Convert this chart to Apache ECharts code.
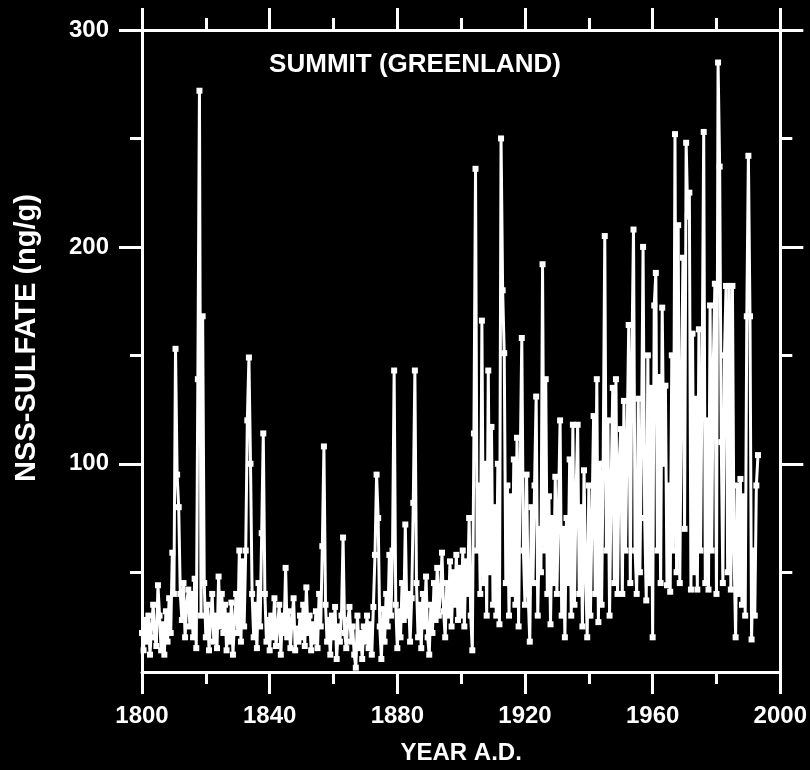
<!DOCTYPE html>
<html>
<head>
<meta charset="utf-8">
<script src="https://cdn.jsdelivr.net/npm/echarts@6/dist/echarts.min.js"></script>
<style>
  html, body { margin: 0; padding: 0; background: #000; }
  #chart { width: 810px; height: 770px; }
</style>
</head>
<body>
<div id="chart"></div>
<script>
// Sampling of the record: first sample year and spacing (years)
const startYear = 1800;
const stepYears = 0.5;

// NSS-sulfate (ng/g), Summit Greenland (10 samples = 5 years per row)
const sulfate = [
  22, 14, 28, 18, 30, 12, 25, 35, 20, 16,      // 1800
  44, 30, 14, 26, 12, 32, 18, 38, 22, 59,      // 1805
  40, 153, 95, 80, 40, 28, 45, 20, 35, 42,     // 1810
  25, 40, 20, 47, 15, 139, 272, 30, 168, 45,   // 1815
  20, 35, 14, 28, 40, 18, 30, 15, 48, 25,      // 1820
  40, 22, 35, 14, 30, 18, 36, 12, 28, 40,      // 1825
  22, 60, 18, 55, 25, 60, 120, 149, 100, 40,   // 1830
  20, 35, 15, 45, 25, 68, 114, 40, 18, 28,     // 1835
  14, 30, 20, 38, 16, 25, 35, 12, 30, 22,      // 1840
  52, 20, 32, 15, 28, 38, 14, 24, 18, 30,      // 1845
  20, 35, 16, 43, 22, 30, 14, 26, 18, 32,      // 1850
  15, 40, 25, 62, 108, 35, 18, 28, 12, 30,     // 1855
  20, 34, 10, 25, 18, 30, 66, 22, 15, 28,      // 1860
  34, 18, 25, 12, 6, 30, 15, 22, 10, 25,       // 1865
  18, 30, 15, 26, 12, 34, 58, 95, 75, 25,      // 1870
  10, 33, 18, 40, 25, 58, 30, 60, 143, 35,     // 1875
  15, 32, 20, 45, 28, 72, 30, 40, 18, 38,      // 1880
  82, 143, 45, 20, 35, 15, 40, 25, 48, 20,     // 1885
  12, 35, 22, 45, 28, 52, 30, 40, 59, 32,      // 1890
  20, 45, 30, 55, 25, 50, 35, 58, 28, 52,      // 1895
  30, 60, 25, 55, 40, 75, 30, 14, 114, 236,    // 1900
  60, 90, 40, 166, 45, 100, 30, 143, 50, 117,  // 1905
  35, 80, 30, 100, 26, 250, 180, 151, 45, 90,  // 1910
  30, 85, 40, 102, 35, 112, 25, 100, 158, 60,  // 1915
  35, 95, 40, 18, 80, 45, 90, 131, 30, 70,     // 1920
  50, 192, 60, 139, 40, 85, 26, 75, 45, 94,    // 1925
  40, 80, 120, 30, 70, 20, 75, 45, 102, 30,    // 1930
  118, 35, 85, 118, 40, 80, 25, 97, 50, 20,    // 1935
  90, 30, 75, 122, 40, 139, 27, 100, 35, 100,  // 1940
  205, 60, 120, 30, 90, 135, 45, 139, 40, 100, // 1945
  116, 40, 129, 60, 110, 164, 45, 150, 208, 60,// 1950
  40, 130, 50, 110, 200, 75, 37, 150, 45, 135, // 1955
  20, 173, 188, 60, 140, 45, 172, 100, 136, 44,// 1960
  90, 41, 150, 60, 252, 50, 210, 45, 130, 195, // 1965
  70, 248, 214, 225, 42, 160, 50, 130, 42, 162,// 1970
  60, 140, 253, 45, 120, 42, 173, 60, 145, 183,// 1975
  40, 285, 237, 110, 45, 150, 182, 50, 182, 42,// 1980
  182, 60, 20, 90, 40, 93, 35, 85, 30, 168,    // 1985
  242, 168, 19, 60, 30, 90, 104                // 1990
];

// Axis tick values
const yMajorTicks = [100, 200, 300];
const yMinorTicks = [50, 150, 250];
const yLabels = [100, 200, 300];

const chartTitle = 'SUMMIT (GREENLAND)';
const xName = 'YEAR A.D.';
const yName = 'NSS-SULFATE (ng/g)';

const seriesData = sulfate.map((v, i) => [startYear + i * stepYears, v]);

const FONT = '"Liberation Sans", Arial, sans-serif';
const WHITE = '#ffffff';
const lineW = 3;

function xAx(pos, showLabel) {
  return {
    type: 'value', position: pos, min: 1800, max: 2000, interval: 40,
    axisLine: { show: true, onZero: false, lineStyle: { color: WHITE, width: lineW } },
    axisTick: { show: true, inside: false, length: 22, lineStyle: { color: WHITE, width: lineW } },
    minorTick: { show: true, splitNumber: 2, length: 12, lineStyle: { color: WHITE, width: lineW } },
    splitLine: { show: false }, minorSplitLine: { show: false },
    axisLabel: { show: showLabel, color: WHITE, fontFamily: FONT, fontWeight: 'bold', fontSize: 24, margin: 32,
                 formatter: v => String(v) },
    name: showLabel ? xName : '', nameLocation: 'middle', nameGap: 69,
    nameTextStyle: { color: WHITE, fontFamily: FONT, fontWeight: 'bold', fontSize: 24 }
  };
}
function yAx(pos, ticks, len, showLine, labels) {
  return {
    type: 'value', position: pos, min: 4, max: 300,
    axisLine: { show: showLine, onZero: false, lineStyle: { color: WHITE, width: lineW } },
    axisTick: { show: true, inside: false, length: len, customValues: ticks, lineStyle: { color: WHITE, width: lineW } },
    splitLine: { show: false },
    axisLabel: labels ? { show: true, customValues: labels, color: WHITE, fontFamily: FONT, fontWeight: 'bold', fontSize: 24, margin: 33,
                          formatter: v => String(v) } : { show: false }
  };
}

const chart = echarts.init(document.getElementById('chart'), null, { renderer: 'canvas' });
chart.setOption({
  backgroundColor: '#000000',
  animation: false,
  grid: { left: 142, right: 29, top: 30, bottom: 97, containLabel: false },
  xAxis: [xAx('bottom', true), xAx('top', false)],
  yAxis: [
    yAx('left', yMajorTicks, 23, true, yLabels),
    yAx('left', yMinorTicks, 12, false, null),
    yAx('right', yMajorTicks, 23, true, null),
    yAx('right', yMinorTicks, 12, false, null)
  ],
  graphic: [{
    type: 'text', x: 415, y: 65,
    style: { text: chartTitle, fill: WHITE, font: 'bold 26px "Liberation Sans", Arial, sans-serif', align: 'center', verticalAlign: 'middle' }
  }, {
    type: 'text', x: 27, y: 338, rotation: Math.PI / 2,
    style: { text: yName, fill: WHITE, font: 'bold 29px "Liberation Sans", Arial, sans-serif', align: 'center', verticalAlign: 'middle' }
  }],
  series: [{
    type: 'line', xAxisIndex: 0, yAxisIndex: 0,
    data: seriesData,
    showSymbol: true, showAllSymbol: true, symbol: 'rect', symbolSize: 6,
    itemStyle: { color: WHITE },
    lineStyle: { color: WHITE, width: 3 },
    clip: true
  }]
});
</script>
</body>
</html>
